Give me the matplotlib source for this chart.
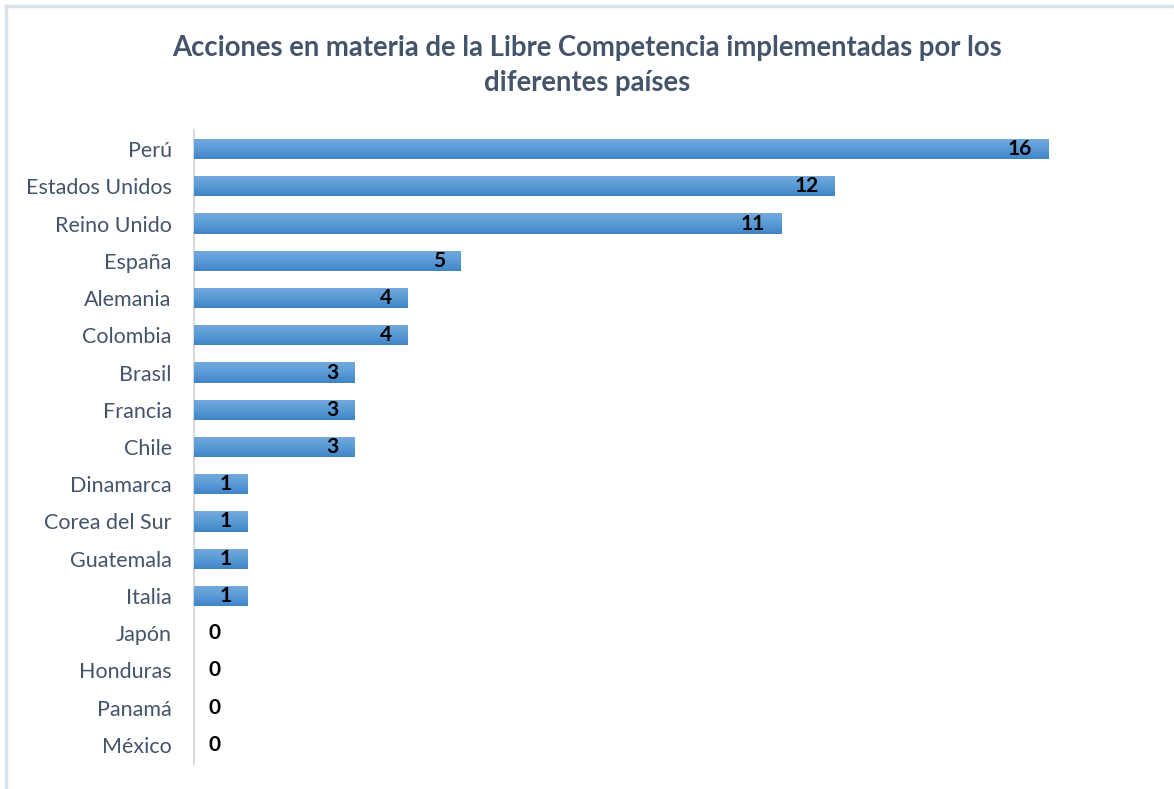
import numpy as np
import matplotlib
matplotlib.use('Agg')
import matplotlib.pyplot as plt
from matplotlib.colors import LinearSegmentedColormap
from matplotlib.patches import Rectangle

# data
paises = ['Perú', 'Estados Unidos', 'Reino Unido', 'España', 'Alemania', 'Colombia',
          'Brasil', 'Francia', 'Chile', 'Dinamarca', 'Corea del Sur', 'Guatemala',
          'Italia', 'Japón', 'Honduras', 'Panamá', 'México']
acciones = [16, 12, 11, 5, 4, 4, 3, 3, 3, 1, 1, 1, 1, 0, 0, 0, 0]

titulo = 'Acciones en materia de la Libre Competencia implementadas por los\ndiferentes países'

plt.rcParams['font.family'] = ['Lato', 'DejaVu Sans']

fig = plt.figure(figsize=(11.74, 7.89), dpi=100)
ax = fig.add_axes([0.1652, 0.0322, 0.8186, 0.8025])

y = np.arange(len(paises))
bars = ax.barh(y, acciones, height=0.54, color='#5B9BD5', zorder=2)

# vertical gradient on each bar (lighter on top)
cmap = LinearSegmentedColormap.from_list('g', ['#74AADE', '#5B9BD5', '#3E84C6'])
grad = np.linspace(0, 1, 64).reshape(-1, 1)
for b in bars:
    if b.get_width() <= 0:
        continue
    x0, y0 = b.get_x(), b.get_y()
    w, h = b.get_width(), b.get_height()
    im = ax.imshow(grad, cmap=cmap, aspect='auto', origin='upper',
                   extent=[x0, x0 + w, y0 + h, y0], zorder=3)
    im.set_clip_path(Rectangle((x0, y0), w, h, transform=ax.transData))

for yi, v in zip(y, acciones):
    if v > 0:
        ax.annotate(str(v), (v, yi), xytext=(-16, 0), textcoords='offset pixels',
                    ha='right', va='center', fontsize=15, fontweight='bold',
                    color='black', zorder=4)
    else:
        ax.annotate(str(v), (0, yi), xytext=(15, 0), textcoords='offset pixels',
                    ha='left', va='center', fontsize=15, fontweight='bold',
                    color='black', zorder=4)

ax.set_ylim(len(paises) - 0.5, -0.5)
ax.set_xlim(0, 18)
ax.set_yticks(y)
ax.set_yticklabels(paises, fontsize=15.5, color='#44546A')
ax.tick_params(axis='y', length=0, pad=16)
ax.set_xticks([])
for s in ['top', 'right', 'bottom']:
    ax.spines[s].set_visible(False)
ax.spines['left'].set_color('#D9D9D9')
ax.spines['left'].set_linewidth(1.5)

fig.text(0.5, 0.917, titulo, ha='center', va='center', fontsize=19.8,
         fontweight='bold', color='#44546A', linespacing=1.45)

# chart area border (only top and left visible in reference)
fig.add_artist(plt.Line2D([0.005, 1.0], [0.993, 0.993], color='#DDE1E8', lw=2.5,
                          transform=fig.transFigure))
fig.add_artist(plt.Line2D([0.005, 0.005], [0.0, 0.993], color='#DDE1E8', lw=2.5,
                          transform=fig.transFigure))

fig.savefig('out.png', dpi=100)
